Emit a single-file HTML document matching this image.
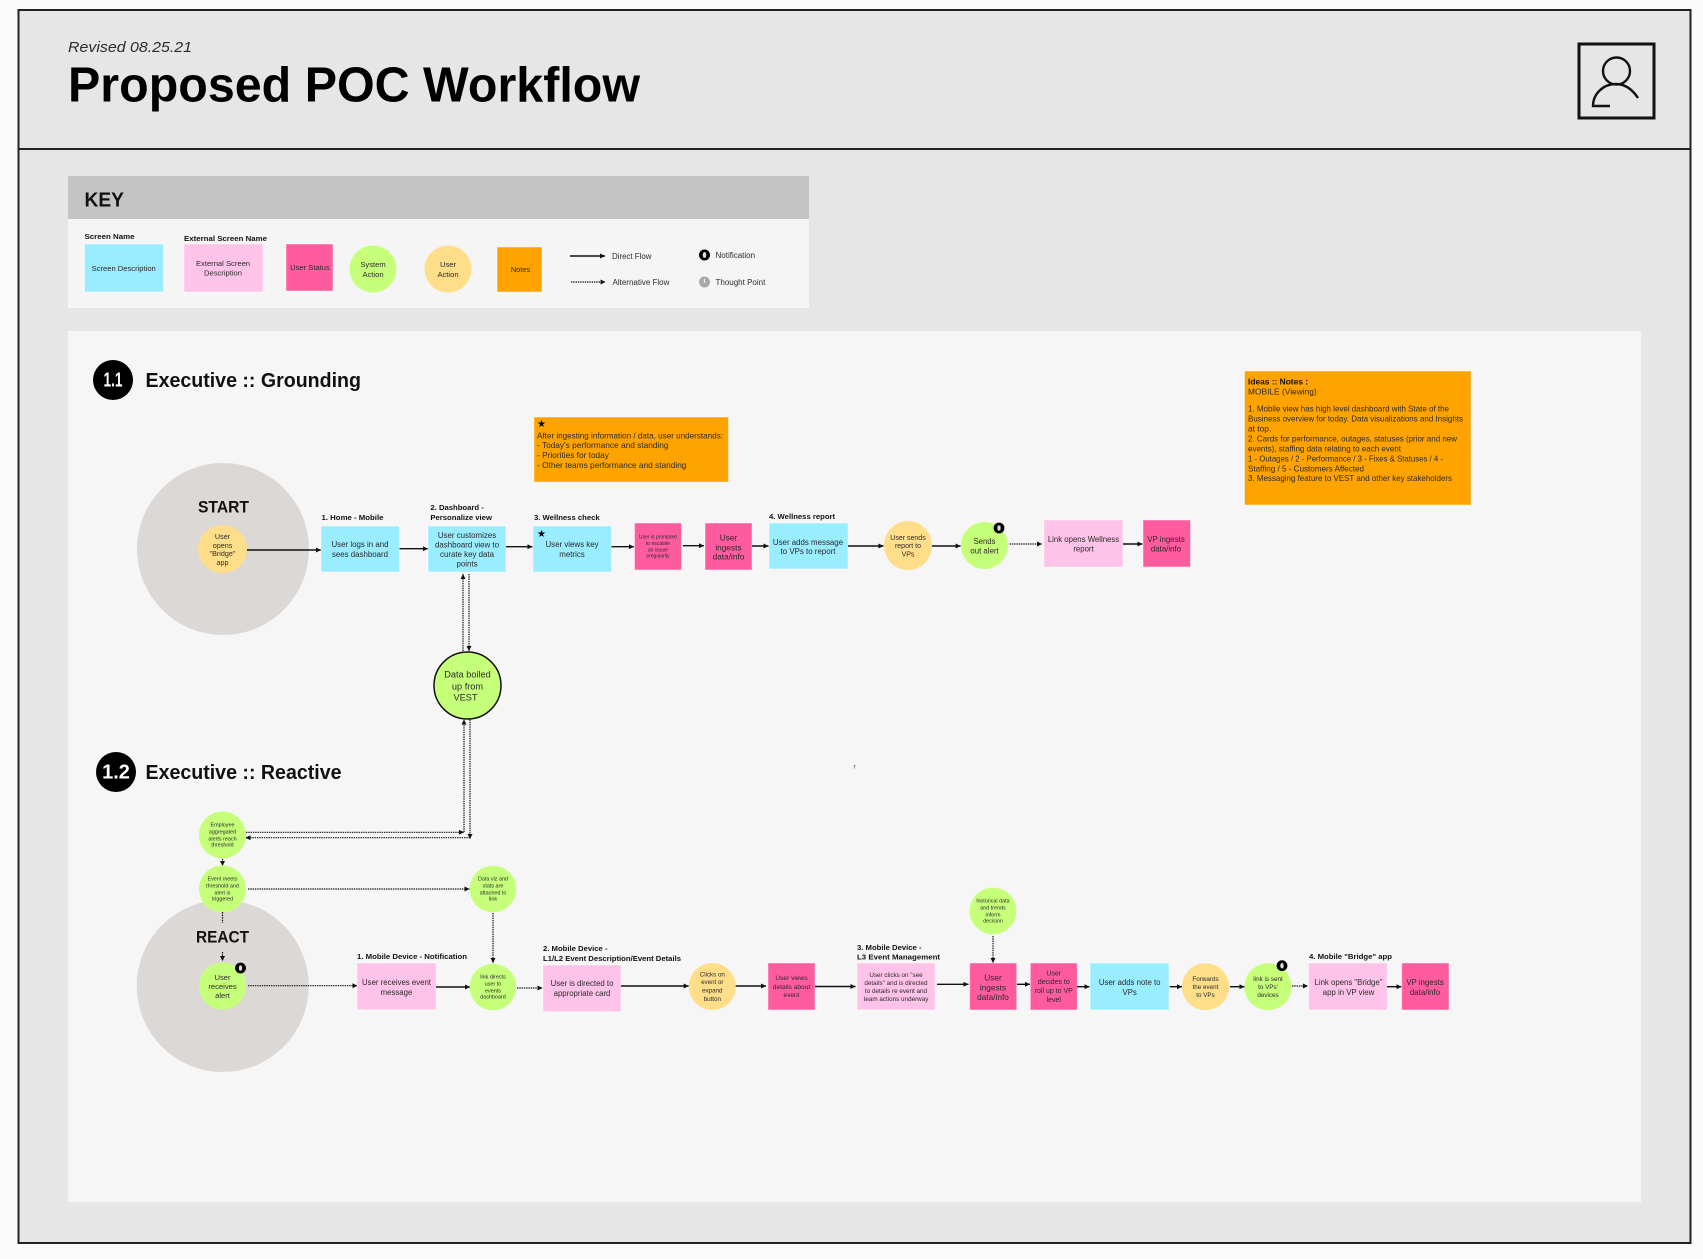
<!DOCTYPE html>
<html><head><meta charset="utf-8"><style>
html,body{margin:0;padding:0;background:#fbfbfb;width:1703px;height:1259px;overflow:hidden}
svg{display:block;position:absolute;left:0;top:0;filter:blur(.35px)}
text{font-family:"Liberation Sans",sans-serif;fill:#2b2b2b;dominant-baseline:central;transform:translateY(.6px)}
.c{text-anchor:middle}
.b{font-weight:700;fill:#111}
.s{stroke:#fff;stroke-opacity:.45;stroke-width:1}
.a{fill:none;stroke:#111;stroke-width:1.4;marker-end:url(#h)}
.d{fill:none;stroke:#111;stroke-width:1.2;stroke-dasharray:1.4 .9;marker-end:url(#h)}
.blu{fill:#9aecff}.pnk{fill:#ffc2e8}.mag{fill:#ff5c9f}.grn{fill:#c6ff7a}.yel{fill:#ffde8a}.org{fill:#ffa300}
</style></head><body>
<svg xmlns="http://www.w3.org/2000/svg" width="1703" height="1259" viewBox="0 0 1703 1259">
<defs><marker id="h" markerUnits="userSpaceOnUse" markerWidth="6" markerHeight="5" refX="5" refY="2.5" orient="auto"><path d="M0 0L5 2.5L0 5z" fill="#111"/></marker></defs>

<!-- frame -->
<rect x="18.5" y="10" width="1672" height="1233" fill="#e6e6e6" stroke="#222" stroke-width="2"/>
<line x1="18.5" y1="149" x2="1690.5" y2="149" stroke="#222" stroke-width="2"/>
<text x="68" y="47" font-size="15" font-style="italic" textLength="124" lengthAdjust="spacingAndGlyphs" fill="#111">Revised 08.25.21</text>
<text class="b" x="68" y="85" font-size="49" textLength="572" lengthAdjust="spacingAndGlyphs" style="fill:#000">Proposed POC Workflow</text>
<rect x="1579" y="44" width="75" height="74" fill="none" stroke="#111" stroke-width="3"/>
<circle cx="1616.5" cy="71" r="13.5" fill="none" stroke="#111" stroke-width="2.4"/>
<path d="M1638 98C1632 89 1625 84 1616 84C1603 84 1593 94 1593 106H1610" fill="none" stroke="#111" stroke-width="2.4"/>

<!-- key -->
<rect x="68" y="176" width="741" height="132" fill="#f5f5f5"/>
<rect x="68" y="176" width="741" height="43" fill="#c4c4c4"/>
<text class="b" x="84.5" y="200" font-size="20" textLength="39.5" lengthAdjust="spacingAndGlyphs">KEY</text>
<text class="b" x="84.5" y="236" font-size="7.6" textLength="50" lengthAdjust="spacingAndGlyphs">Screen Name</text>
<text class="b" x="184" y="238" font-size="7.6" textLength="83" lengthAdjust="spacingAndGlyphs">External Screen Name</text>
<rect class="blu s" x="84.5" y="244" width="79" height="48"/>
<text class="c" x="123.7" y="268" font-size="7.6">Screen Description</text>
<rect class="pnk s" x="184" y="244" width="79" height="48"/>
<text class="c" x="223" y="263" font-size="7.6">External Screen</text>
<text class="c" x="223" y="272.5" font-size="7.6">Description</text>
<rect class="mag s" x="286" y="244" width="47" height="47"/>
<text class="c" x="310" y="267" font-size="7.6">User Status</text>
<circle class="grn" cx="373" cy="269" r="23.5"/>
<text class="c" x="373" y="264" font-size="7.6">System</text>
<text class="c" x="373" y="274" font-size="7.6">Action</text>
<circle class="yel" cx="448" cy="269" r="23.5"/>
<text class="c" x="448" y="264" font-size="7.6">User</text>
<text class="c" x="448" y="274" font-size="7.6">Action</text>
<rect class="org s" x="497" y="247" width="45" height="45"/>
<text class="c" x="520.5" y="269" font-size="7.4">Notes</text>
<line class="a" x1="570" y1="256" x2="605" y2="256"/>
<text x="612" y="256" font-size="7.9">Direct Flow</text>
<line class="d" x1="571" y1="282" x2="605.5" y2="282"/>
<text x="612.5" y="282" font-size="8">Alternative Flow</text>
<circle cx="704.5" cy="255" r="5.5" fill="#000"/><ellipse cx="704.5" cy="255" rx="1.8" ry="3" fill="#ddd"/>
<text x="715.5" y="255" font-size="8">Notification</text>
<circle cx="704.5" cy="282" r="5.5" fill="#aaa"/><rect x="703.9" y="279" width="1.2" height="4" fill="#eee"/>
<text x="715.5" y="282" font-size="8">Thought Point</text>

<!-- panel -->
<rect x="68" y="331" width="1573" height="871" fill="#f6f6f6"/>

<circle cx="113" cy="380" r="20" fill="#000"/>
<text class="c b" x="113" y="380" font-size="20" textLength="19" lengthAdjust="spacingAndGlyphs" style="fill:#fff">1.1</text>
<text class="b" x="145.5" y="380" font-size="20.5" textLength="215.5" lengthAdjust="spacingAndGlyphs">Executive :: Grounding</text>
<circle cx="116" cy="772" r="20" fill="#000"/>
<text class="c b" x="116" y="772" font-size="20" style="fill:#fff">1.2</text>
<text class="b" x="145.5" y="772" font-size="20.5" textLength="196" lengthAdjust="spacingAndGlyphs">Executive :: Reactive</text>

<!-- notes -->
<rect class="org s" x="534" y="417" width="194.5" height="65"/>
<text class="c" x="541.5" y="424" font-size="10" style="fill:#000">★</text>
<g font-size="8.3">
<text x="537" y="434.7" textLength="186" lengthAdjust="spacingAndGlyphs">After ingesting information / data, user understands:</text>
<text x="537" y="444.5">- Today's performance and standing</text>
<text x="537" y="454.5">- Priorities for today</text>
<text x="537" y="464.5">- Other teams performance and standing</text>
</g>
<rect class="org s" x="1244.5" y="371" width="226.5" height="134"/>
<g font-size="8.4">
<text class="b" x="1248" y="381">Ideas :: Notes :</text>
<text x="1248" y="391">MOBILE (Viewing)</text>
<text x="1248" y="408" textLength="201" lengthAdjust="spacingAndGlyphs">1. Mobile view has high level dashboard with State of the</text>
<text x="1248" y="418" textLength="215" lengthAdjust="spacingAndGlyphs">Business overview for today. Data visualizations and Insights</text>
<text x="1248" y="428">at top.</text>
<text x="1248" y="438" textLength="209" lengthAdjust="spacingAndGlyphs">2. Cards for performance, outages, statuses (prior and new</text>
<text x="1248" y="448" textLength="153" lengthAdjust="spacingAndGlyphs">events), staffing data relating to each event</text>
<text x="1248" y="458" textLength="195" lengthAdjust="spacingAndGlyphs">1 - Outages / 2 - Performance / 3 - Fixes &amp; Statuses / 4 -</text>
<text x="1248" y="468" textLength="116" lengthAdjust="spacingAndGlyphs">Staffing / 5 - Customers Affected</text>
<text x="1248" y="477.5" textLength="204" lengthAdjust="spacingAndGlyphs">3. Messaging feature to VEST and other key stakeholders</text>
</g>

<!-- big circles -->
<circle cx="223" cy="549" r="86" fill="#dbd8d6"/>
<circle cx="222.7" cy="986" r="86" fill="#dbd8d6"/>
<text class="c b" x="223.5" y="507" font-size="16.5" textLength="51" lengthAdjust="spacingAndGlyphs">START</text>

<!-- row 1 -->
<ellipse class="yel" cx="222.5" cy="549" rx="24.5" ry="24"/>
<g font-size="7.2">
<text class="c" x="222.5" y="536">User</text><text class="c" x="222.5" y="545">opens</text><text class="c" x="222.5" y="553">"Bridge"</text><text class="c" x="222.5" y="562">app</text>
</g>
<line class="a" x1="247" y1="550" x2="321" y2="550"/>

<text class="b" x="321.5" y="517" font-size="7.7" textLength="62" lengthAdjust="spacingAndGlyphs">1. Home - Mobile</text>
<rect class="blu s" x="321" y="526" width="78.5" height="46"/>
<g font-size="7.9"><text class="c" x="360" y="544">User logs in and</text><text class="c" x="360" y="554">sees dashboard</text></g>
<line class="a" x1="399.5" y1="548.7" x2="428" y2="548.7"/>

<text class="b" x="430.4" y="507" font-size="7.7">2. Dashboard -</text>
<text class="b" x="430.4" y="517" font-size="7.7">Personalize view</text>
<rect class="blu s" x="428" y="526" width="78" height="46"/>
<g font-size="7.9"><text class="c" x="467" y="535">User customizes</text><text class="c" x="467" y="544.5">dashboard view to</text><text class="c" x="467" y="554">curate key data</text><text class="c" x="467" y="563.5">points</text></g>
<line class="a" x1="506" y1="546.7" x2="532.5" y2="546.7"/>

<text class="b" x="534" y="517" font-size="7.7">3. Wellness check</text>
<rect class="blu s" x="533" y="526" width="78.5" height="46"/>
<text class="c" x="541.5" y="534" font-size="10" style="fill:#000">★</text>
<g font-size="7.9"><text class="c" x="572" y="544">User views key</text><text class="c" x="572" y="554">metrics</text></g>
<line class="a" x1="611.5" y1="546.7" x2="634" y2="546.7"/>

<rect class="mag s" x="634.5" y="523" width="47" height="47"/>
<g font-size="5"><text class="c" x="658" y="537">User is prompted</text><text class="c" x="658" y="543.5">to escalate</text><text class="c" x="658" y="550">an issue/</text><text class="c" x="658" y="556">irregularity</text></g>
<line class="a" x1="683" y1="545.7" x2="704" y2="545.7"/>

<rect class="mag s" x="705" y="523" width="47" height="47"/>
<g font-size="8.3"><text class="c" x="728.5" y="537">User</text><text class="c" x="728.5" y="547">ingests</text><text class="c" x="728.5" y="556">data/info</text></g>
<line class="a" x1="752" y1="546" x2="768.5" y2="546"/>

<text class="b" x="769" y="515.7" font-size="7.7">4. Wellness report</text>
<rect class="blu s" x="769" y="523" width="79" height="46"/>
<g font-size="7.9"><text class="c" x="808" y="541.7">User adds message</text><text class="c" x="808" y="551">to VPs to report</text></g>
<line class="a" x1="848" y1="546" x2="883.5" y2="546"/>

<ellipse class="yel" cx="908" cy="545.5" rx="24" ry="24.5"/>
<g font-size="7"><text class="c" x="908" y="537.7">User sends</text><text class="c" x="908" y="546">report to</text><text class="c" x="908" y="554.5">VPs</text></g>
<line class="a" x1="932" y1="546" x2="960.6" y2="546"/>

<circle class="grn" cx="984.5" cy="545.5" r="23.5"/>
<g font-size="7.8"><text class="c" x="984.5" y="541">Sends</text><text class="c" x="984.5" y="550.5">out alert</text></g>
<circle cx="999" cy="528" r="5.4" fill="#000"/><ellipse cx="999" cy="528" rx="1.7" ry="2.8" fill="#ddd"/>
<line class="d" x1="1009.5" y1="544" x2="1042" y2="544"/>

<rect class="pnk s" x="1044" y="520" width="79" height="47"/>
<g font-size="7.8"><text class="c" x="1083.5" y="539">Link opens Wellness</text><text class="c" x="1083.5" y="548.5">report</text></g>
<line class="a" x1="1123" y1="544" x2="1142.5" y2="544"/>

<rect class="mag s" x="1143" y="520" width="47.5" height="47"/>
<g font-size="7.9"><text class="c" x="1166" y="539">VP ingests</text><text class="c" x="1166" y="548.5">data/info</text></g>

<!-- VEST -->
<circle class="grn" cx="467.5" cy="685.5" r="33.5" stroke="#111" stroke-width="1.5"/>
<g font-size="9.2"><text class="c" x="467.5" y="674">Data boiled</text><text class="c" x="467.5" y="686">up from</text><text class="c" x="465.5" y="697">VEST</text></g>
<line class="d" x1="463" y1="651" x2="463" y2="574"/>
<line class="d" x1="469" y1="574" x2="469" y2="651"/>
<line class="d" x1="246" y1="832.3" x2="464" y2="832.3"/>
<line class="d" x1="464" y1="832" x2="464" y2="719.5"/>
<line class="d" x1="470" y1="719.5" x2="470" y2="839"/>
<line class="d" x1="470" y1="837.7" x2="245.5" y2="837.7"/>

<!-- react left column -->
<circle class="grn" cx="222.5" cy="835" r="23.5"/>
<g font-size="5.4"><text class="c" x="222.5" y="825">Employee</text><text class="c" x="222.5" y="832">aggregated</text><text class="c" x="222.5" y="838.7">alerts reach</text><text class="c" x="222.5" y="845">threshold</text></g>
<line class="d" x1="222.5" y1="859" x2="222.5" y2="866"/>
<circle class="grn" cx="222.5" cy="889" r="23.5"/>
<g font-size="5.4"><text class="c" x="222.5" y="879">Event meets</text><text class="c" x="222.5" y="886">threshold and</text><text class="c" x="222.5" y="892.7">alert is</text><text class="c" x="222.5" y="899">triggered</text></g>
<line class="d" x1="248" y1="889" x2="469.5" y2="889"/>
<circle class="grn" cx="493" cy="889" r="23.3"/>
<g font-size="5.4"><text class="c" x="493" y="879">Data viz and</text><text class="c" x="493" y="886">stats are</text><text class="c" x="493" y="892.7">attached to</text><text class="c" x="493" y="899">link</text></g>
<line class="d" x1="493" y1="913" x2="493" y2="963"/>
<line x1="222.5" y1="912" x2="222.5" y2="923" stroke="#111" stroke-width="1.2" stroke-dasharray="1.6 1"/>
<text class="c b" x="222.5" y="937" font-size="16.5" textLength="53" lengthAdjust="spacingAndGlyphs">REACT</text>
<line class="d" x1="222.5" y1="952" x2="222.5" y2="961"/>

<!-- row 2 -->
<circle class="grn" cx="222.5" cy="986" r="23.5"/>
<g font-size="7.6"><text class="c" x="222.5" y="976.7">User</text><text class="c" x="222.5" y="985.7">receives</text><text class="c" x="222.5" y="994.7">alert</text></g>
<circle cx="240.5" cy="968" r="5.4" fill="#000"/><ellipse cx="240.5" cy="968" rx="1.7" ry="2.8" fill="#ddd"/>
<line class="d" x1="248" y1="985.7" x2="357.5" y2="985.7"/>

<text class="b" x="357" y="956" font-size="7.7" textLength="110" lengthAdjust="spacingAndGlyphs">1. Mobile Device - Notification</text>
<rect class="pnk s" x="357" y="963" width="79" height="46.7"/>
<g font-size="7.8"><text class="c" x="396.5" y="982">User receives event</text><text class="c" x="396.5" y="991.7">message</text></g>
<line class="a" x1="436" y1="987" x2="470" y2="987"/>

<circle class="grn" cx="493" cy="987" r="23.3"/>
<g font-size="5.4"><text class="c" x="493" y="977">link directs</text><text class="c" x="493" y="984">user to</text><text class="c" x="493" y="990.7">events</text><text class="c" x="493" y="997">dashboard</text></g>
<line class="d" x1="517" y1="988" x2="542.5" y2="988"/>

<text class="b" x="543" y="948" font-size="7.7">2. Mobile Device -</text>
<text class="b" x="543" y="957.7" font-size="7.7" textLength="138" lengthAdjust="spacingAndGlyphs">L1/L2 Event Description/Event Details</text>
<rect class="pnk s" x="543" y="965" width="78" height="46.7"/>
<g font-size="7.8"><text class="c" x="582" y="983">User is directed to</text><text class="c" x="582" y="993">appropriate card</text></g>
<line class="a" x1="621" y1="986" x2="688.7" y2="986"/>

<ellipse class="yel" cx="712.3" cy="986.5" rx="23.5" ry="23.5"/>
<g font-size="6.2"><text class="c" x="712.3" y="974.3">Clicks on</text><text class="c" x="712.3" y="982">event or</text><text class="c" x="712.3" y="990.5">expand</text><text class="c" x="712.3" y="998.7">button</text></g>
<line class="a" x1="735.7" y1="986" x2="766" y2="986"/>

<rect class="mag s" x="768" y="963" width="47" height="47"/>
<g font-size="6.6"><text class="c" x="791.5" y="978">User views</text><text class="c" x="791.5" y="986.7">details about</text><text class="c" x="791.5" y="995">event</text></g>
<line class="a" x1="815" y1="986.5" x2="855.5" y2="986.5"/>

<text class="b" x="857" y="946.7" font-size="7.7">3. Mobile Device -</text>
<text class="b" x="857" y="956.5" font-size="7.7" textLength="83" lengthAdjust="spacingAndGlyphs">L3 Event Management</text>
<rect class="pnk s" x="857" y="963" width="78" height="47"/>
<g font-size="6.3"><text class="c" x="896" y="974.7">User clicks on "see</text><text class="c" x="896" y="982.7">details" and is directed</text><text class="c" x="896" y="991">to details re event and</text><text class="c" x="896" y="999">team actions underway</text></g>
<line class="a" x1="937" y1="984.3" x2="968.5" y2="984.3"/>

<circle class="grn" cx="993" cy="911" r="23.4"/>
<g font-size="5.4"><text class="c" x="993" y="901">historical data</text><text class="c" x="993" y="908">and trends</text><text class="c" x="993" y="914.7">inform</text><text class="c" x="993" y="921">decision</text></g>
<line class="d" x1="993" y1="936" x2="993" y2="963"/>

<rect class="mag s" x="969.7" y="963" width="47" height="47"/>
<g font-size="8.3"><text class="c" x="993" y="977">User</text><text class="c" x="993" y="987">ingests</text><text class="c" x="993" y="996.5">data/info</text></g>
<line class="a" x1="1017" y1="984.3" x2="1030" y2="984.3"/>

<rect class="mag s" x="1030.3" y="963" width="47" height="47"/>
<g font-size="7"><text class="c" x="1053.8" y="973.3">User</text><text class="c" x="1053.8" y="982">decides to</text><text class="c" x="1053.8" y="991">roll up to VP</text><text class="c" x="1053.8" y="1000">level</text></g>
<line class="a" x1="1077" y1="986.7" x2="1089.5" y2="986.7"/>

<rect class="blu s" x="1090" y="963" width="79" height="47"/>
<g font-size="7.8"><text class="c" x="1129.7" y="982">User adds note to</text><text class="c" x="1129.7" y="991.7">VPs</text></g>
<line class="a" x1="1169.7" y1="986.7" x2="1182" y2="986.7"/>

<circle class="yel" cx="1205.5" cy="986.7" r="23.5"/>
<g font-size="6.3"><text class="c" x="1205.5" y="978.7">Forwards</text><text class="c" x="1205.5" y="986.7">the event</text><text class="c" x="1205.5" y="994.7">to VPs</text></g>
<line class="a" x1="1230" y1="986.7" x2="1244.5" y2="986.7"/>

<circle class="grn" cx="1268" cy="986.7" r="23.5"/>
<g font-size="6.3"><text class="c" x="1268" y="978.7">link is sent</text><text class="c" x="1268" y="986.7">to VPs'</text><text class="c" x="1268" y="994.7">devices</text></g>
<circle cx="1282" cy="965.7" r="5.4" fill="#000"/><ellipse cx="1282" cy="965.7" rx="1.7" ry="2.8" fill="#ddd"/>
<line class="d" x1="1292" y1="986" x2="1308" y2="986"/>

<text class="b" x="1309" y="955.7" font-size="7.7" textLength="83" lengthAdjust="spacingAndGlyphs">4. Mobile "Bridge" app</text>
<rect class="pnk s" x="1308.7" y="963" width="78.5" height="47"/>
<g font-size="7.8"><text class="c" x="1348.5" y="982">Link opens "Bridge"</text><text class="c" x="1348.5" y="991.7">app in VP view</text></g>
<line class="a" x1="1387" y1="986.7" x2="1401.5" y2="986.7"/>

<rect class="mag s" x="1401.7" y="963" width="47.3" height="47"/>
<g font-size="7.9"><text class="c" x="1425" y="982">VP ingests</text><text class="c" x="1425" y="991.7">data/info</text></g>

<text class="c" x="854.5" y="767" font-size="6">r</text>
</svg>
</body></html>
